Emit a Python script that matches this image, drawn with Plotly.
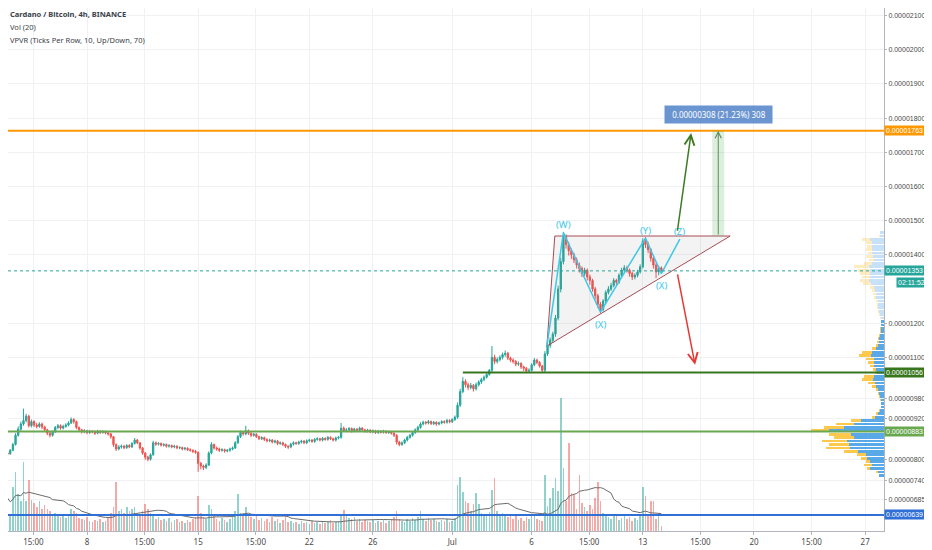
import pandas as pd
import plotly.graph_objects as go

# ADA/BTC 4h bars starting 2020-06-02 12:00, prices in satoshi (1e-8 BTC)
first_open = 800

closes = [int(v) for v in """
805 812 820 818 828 845 872 890 905 915
928 900 912 902 898 905 896 888 878 872
882 895 900 893 898 902 908 918 912 895
888 882 885 880 884 882 878 884 880 883
879 876 868 845 832 838 840 836 842 838
848 858 850 835 820 808 802 815 850 846
848 843 845 840 842 838 840 835 836 832
834 830 828 825 822 790 782 778 785 820
845 835 832 828 830 826 828 832 835 850
868 880 876 885 878 872 875 868 862 865
860 856 858 852 855 848 850 845 840 838
846 850 848 852 855 850 856 858 854 860
862 858 863 860 866 862 858 864 866 893
886 888 892 885 890 886 893 888 884 887
882 885 880 884 881 884 880 882 878 872
852 845 850 858 866 872 880 888 895 905
910 908 912 906 910 905 908 912 910 915
912 918 925 960 1000 1030 1020 1012 1018 1008
1020 1028 1035 1042 1050 1062 1100 1088 1094 1100
1108 1112 1098 1092 1088 1080 1082 1072 1068 1060
1062 1078 1092 1085 1075 1062 1110 1135 1150 1168
1215 1300 1380 1452 1430 1412 1400 1385 1370 1360
1345 1355 1335 1325 1300 1280 1255 1240 1265 1290
1300 1310 1325 1320 1340 1355 1362 1355 1345 1335
1340 1350 1365 1440 1430 1415 1390 1370 1350 1362
1353
""".split()]

highs = [int(v) for v in """
810 816 824 826 832 850 878 898 912 950
935 932 918 916 908 910 909 900 891 882
886 899 905 904 903 907 913 924 922 915
898 891 890 888 888 887 886 888 887 887
886 883 879 870 848 843 845 844 846 846
852 864 861 852 838 823 812 819 856 854
852 851 849 848 846 845 844 843 840 839
838 837 834 831 829 825 794 786 790 825
852 848 839 836 834 833 832 836 839 855
873 886 884 900 889 881 879 878 871 869
868 863 862 861 859 858 854 853 848 843
850 854 853 856 859 858 860 862 861 864
866 865 867 866 870 869 865 868 870 908
898 893 896 895 894 893 897 896 891 891
890 889 888 888 887 888 887 886 885 881
875 856 854 862 870 876 884 892 900 910
915 914 917 915 914 913 912 916 916 920
919 922 930 968 1008 1042 1036 1026 1025 1022
1026 1033 1040 1047 1055 1066 1133 1108 1100 1106
1114 1120 1116 1102 1097 1092 1088 1086 1076 1072
1068 1083 1098 1096 1089 1078 1118 1142 1158 1175
1224 1310 1392 1467 1460 1438 1418 1406 1392 1378
1366 1362 1360 1342 1330 1306 1286 1262 1270 1296
1308 1318 1332 1330 1346 1362 1370 1368 1360 1350
1346 1356 1372 1448 1452 1438 1420 1396 1375 1368
1366
""".split()]

lows = [int(v) for v in """
796 802 808 812 815 825 842 868 885 900
910 895 895 896 892 894 890 884 872 866
868 879 890 888 889 894 898 905 906 890
883 877 878 875 876 878 873 875 876 877
875 871 862 838 826 828 833 831 832 834
835 845 846 830 815 800 796 798 812 841
842 839 839 836 836 834 834 831 831 828
828 826 824 820 818 765 772 770 773 782
816 830 827 823 824 821 822 824 828 832
847 864 871 872 873 867 868 864 858 858
855 851 852 848 848 843 844 840 835 832
834 842 844 844 848 846 846 852 850 850
856 854 854 856 856 858 854 854 860 862
882 882 884 880 881 882 882 884 880 880
878 878 876 876 877 877 876 876 874 867
845 840 841 846 854 862 868 876 884 891
901 903 904 902 902 900 901 904 906 906
907 908 914 920 955 995 1012 1004 1006 1000
1003 1015 1022 1030 1038 1046 1058 1080 1082 1088
1094 1102 1092 1086 1082 1074 1075 1066 1060 1054
1055 1058 1074 1080 1070 1056 1056 1104 1128 1142
1160 1208 1290 1372 1418 1398 1388 1376 1360 1348
1335 1338 1325 1312 1292 1270 1245 1229 1234 1258
1284 1294 1305 1312 1315 1334 1348 1348 1336 1326
1328 1334 1345 1360 1420 1405 1380 1360 1332 1340
1348
""".split()]

# volume per bar (arbitrary units)
volumes = [int(v) for v in """
59 26 24 22 15 44 59 37 30 69
30 51 31 28 24 30 22 26 22 20
17 18 15 14 16 13 15 22 20 18
13 12 11 14 10 9 11 10 12 9
10 13 18 24 49 20 22 18 24 20
22 24 17 15 20 27 22 18 16 12
14 11 12 10 13 9 11 12 9 10
8 11 9 12 14 35 18 14 12 26
22 16 12 10 13 11 9 12 15 20
37 18 16 24 17 14 12 15 11 13
10 12 9 14 10 12 8 11 15 9
10 8 9 7 10 8 9 7 10 8
9 7 10 8 9 11 8 9 10 17
21 16 13 12 14 10 12 9 11 10
9 11 8 10 9 11 8 10 12 14
20 12 10 9 12 10 13 11 14 20
12 10 13 11 12 10 9 11 10 12
9 10 13 46 54 39 30 28 20 27
38 27 18 16 15 19 41 53 20 16
18 15 14 17 12 15 11 13 10 14
12 17 15 12 11 10 56 25 33 43
53 40 133 63 30 88 38 36 22 56
28 24 20 26 22 33 49 30 18 16
14 12 17 15 11 13 16 12 14 10
13 11 15 44 35 16 30 30 12 17
5
""".split()]

# VPVR rows of 10 sat, lowest row starts at 750
vp_start = 750
vp_up = [5, 6, 14, 12, 14, 17, 18, 26, 34, 35,
         37, 30, 33, 55, 40, 30, 23, 9, 6, 4,
         3, 3, 3, 4, 5, 6, 8, 9, 11, 10,
         7, 8, 10, 10, 10, 13, 12, 8, 6, 5,
         5, 4, 3, 3, 3, 3, 3, 4, 5, 6,
         6, 6, 8, 8, 9, 10, 13, 15, 14, 14,
         14, 15, 12, 10, 11, 12, 12, 12, 12, 14,
         4, 4]
vp_down = [0, 2, 3, 8, 4, 6, 9, 14, 24, 20,
           25, 20, 22, 18, 20, 18, 10, 3, 2, 1,
           0, 0, 1, 1, 1, 2, 4, 7, 11, 10,
           2, 3, 4, 6, 8, 12, 10, 4, 2, 2,
           1, 1, 1, 1, 0, 0, 1, 1, 1, 1,
           1, 2, 2, 3, 3, 4, 8, 9, 8, 10,
           12, 15, 8, 5, 7, 4, 6, 5, 6, 8,
           1, 0]
value_area = (750, 1200)

# horizontal levels drawn on the chart
levels = [1763, 1056, 883, 639]
level_colors = ["#ff9800", "#38761d", "#6aa84f", "#2f6fd6"]
level_starts = [None, "2020-07-01 16:00", None, None]
last_price = 1353

# elliott count and triangle
wave_times = ["2020-07-06 23:00", "2020-07-08 00:00", "2020-07-10 08:00",
              "2020-07-13 04:00", "2020-07-14 04:00", "2020-07-15 08:00"]
wave_prices = [1133, 1465, 1232, 1449, 1345, 1446]
wave_labels = ["", "(W)", "(X)", "(Y)", "(X)", "(Z)"]
tri_times = ["2020-07-06 23:00", "2020-07-07 11:00", "2020-07-18 12:00", "2020-07-06 23:00"]
tri_prices = [1133, 1455, 1455, 1133]

# arrows: (tail time, tail price, head time, head price)
arrow_up = ("2020-07-15 04:00", 1466, "2020-07-16 01:00", 1756)
arrow_down = ("2020-07-15 04:00", 1347, "2020-07-16 07:00", 1078)
measure_time = "2020-07-17 18:00"
measure_band = ("2020-07-17 09:00", "2020-07-18 03:00")
measure_from, measure_to = 1455, 1763

price_ticks = [685, 740, 800, 920, 980, 1100, 1200,
               1400, 1500, 1600, 1700, 1800, 1900, 2000, 2100]
date_ticks = ["2020-06-04 15:00", "2020-06-08", "2020-06-11 15:00", "2020-06-15",
              "2020-06-18 15:00", "2020-06-22", "2020-06-26", "2020-07-01",
              "2020-07-06", "2020-07-09 15:00", "2020-07-13", "2020-07-16 15:00",
              "2020-07-20", "2020-07-23 15:00", "2020-07-27"]
date_labels = ["15:00", "8", "15:00", "15", "15:00", "22", "26", "Jul",
               "6", "15:00", "13", "15:00", "20", "15:00", "27"]

# page body adds an 8px margin, so the figure is 8px smaller and starts cut
x_range = ["2020-06-03 00:36", "2020-07-28 04:30"]
price_range = [592, 2122]
vol_range = [0, 523]
FONT = "Noto Sans"
SCALE_FONT = "Liberation Sans"


def sats(p):
    return "{:.8f}".format(p * 1e-8)


bars = pd.DataFrame({
    "Date": pd.date_range("2020-06-02 12:00", periods=len(closes), freq="4h"),
    "Open": [first_open] + closes[:-1],
    "High": highs,
    "Low": lows,
    "Close": closes,
    "Volume": volumes,
})
# 20 bar volume moving average
bars["MA"] = bars.Volume.rolling(window=20, min_periods=1).mean()
vol_colors = ["rgba(38,166,154,0.5)" if c >= o else "rgba(239,83,80,0.5)"
              for o, c in zip(bars.Open, bars.Close)]

fig = go.Figure()

# volume pane (bottom, own hidden scale)
fig.add_trace(go.Bar(x=bars.Date, y=bars.Volume, marker_color=vol_colors,
                     marker_line_width=0, width=4 * 3600 * 1000 * 0.6,
                     xaxis="x", yaxis="y"))
fig.add_trace(go.Scatter(x=bars.Date, y=bars.MA, mode="lines",
                         line=dict(color="#6b6b6b", width=1),
                         xaxis="x", yaxis="y"))

# triangle
fig.add_trace(go.Scatter(x=tri_times, y=tri_prices, mode="lines", fill="toself",
                         fillcolor="rgba(120,120,130,0.09)",
                         line=dict(color="#a84a55", width=1),
                         xaxis="x", yaxis="y2"))

fig.add_trace(go.Candlestick(
    x=bars.Date, open=bars.Open, high=bars.High, low=bars.Low, close=bars.Close,
    increasing=dict(line=dict(color="#26a69a", width=1), fillcolor="#26a69a"),
    decreasing=dict(line=dict(color="#ef5350", width=1), fillcolor="#ef5350"),
    whiskerwidth=0, xaxis="x", yaxis="y2"))

# wave zigzag
fig.add_trace(go.Scatter(x=wave_times, y=wave_prices, mode="lines",
                         line=dict(color="#3cc8e6", width=1.5),
                         xaxis="x", yaxis="y2"))

# volume profile, bars growing leftwards from the price scale
vp_rows = [vp_start + 10 * i + 5 for i in range(len(vp_up))]
in_va = [value_area[0] <= r - 5 <= value_area[1] for r in vp_rows]
fig.add_trace(go.Bar(y=vp_rows, x=vp_up, orientation="h", width=8,
                     marker_color=["rgba(33,140,226,0.75)" if v else "rgba(33,140,226,0.25)" for v in in_va],
                     marker_line_width=0, xaxis="x2", yaxis="y2"))
fig.add_trace(go.Bar(y=vp_rows, x=vp_down, orientation="h", width=8,
                     marker_color=["rgba(251,192,45,0.85)" if v else "rgba(251,192,45,0.3)" for v in in_va],
                     marker_line_width=0, xaxis="x2", yaxis="y2"))

shapes = []
for p, col, start in zip(levels, level_colors, level_starts):
    if start is None:
        shapes.append(dict(type="line", xref="paper", x0=0, x1=1, yref="y2", y0=p, y1=p,
                           line=dict(color=col, width=2)))
    else:
        shapes.append(dict(type="line", xref="x", x0=start, x1=x_range[1], yref="y2", y0=p, y1=p,
                           line=dict(color=col, width=2)))
shapes.append(dict(type="line", xref="paper", x0=0, x1=1, yref="y2", y0=last_price, y1=last_price,
                   line=dict(color="#26a69a", width=1, dash="dot")))
shapes.append(dict(type="rect", xref="x", x0=measure_band[0], x1=measure_band[1],
                   yref="y2", y0=measure_from, y1=measure_to,
                   fillcolor="rgba(76,175,80,0.2)", line=dict(width=0)))

annotations = []
# legend text top left
for i, txt in enumerate(["<b>Cardano / Bitcoin, 4h, BINANCE</b>", "Vol (20)",
                         "VPVR (Ticks Per Row, 10, Up/Down, 70)"]):
    annotations.append(dict(xref="paper", yref="paper", x=0, y=1, xanchor="left", yanchor="middle",
                            xshift=0, yshift=-6 - 13 * i, text=txt, showarrow=False,
                            font=dict(family=FONT, size=7.5, color="#3c3f4a")))

# price scale labels for the levels
for p, col in zip(levels + [last_price], level_colors + ["#26a69a"]):
    annotations.append(dict(xref="paper", yref="y2", x=1, y=p, xanchor="left", yanchor="middle",
                            text=sats(p), showarrow=False, bgcolor=col, borderpad=1,
                            font=dict(family=SCALE_FONT, size=7, color="white")))
annotations.append(dict(xref="paper", yref="y2", x=1, y=last_price, xanchor="left", yanchor="middle",
                        xshift=12, yshift=-12, text="02:11:52", showarrow=False,
                        bgcolor="#26a69a", borderpad=1,
                        font=dict(family=SCALE_FONT, size=7, color="white")))

# wave labels
for t, p, lab, k in zip(wave_times, wave_prices, wave_labels, range(len(wave_labels))):
    if lab:
        annotations.append(dict(x=t, y=p, xref="x", yref="y2", text=lab, showarrow=False,
                                yshift=8 if k % 2 == 1 else -12,
                                font=dict(family=FONT, size=9.5, color="#3cc8e6")))

# arrows
for (t0, p0, t1, p1), col in [(arrow_up, "#3d7a22"), (arrow_down, "#e53935")]:
    annotations.append(dict(x=t1, y=p1, ax=t0, ay=p0, xref="x", yref="y2", axref="x", ayref="y2",
                            text="", showarrow=True, arrowhead=5, arrowsize=1.3, arrowwidth=1.5,
                            arrowcolor=col))
annotations.append(dict(x=measure_time, y=measure_to, ax=measure_time, ay=measure_from,
                        xref="x", yref="y2", axref="x", ayref="y2", text="", showarrow=True,
                        arrowhead=5, arrowsize=1.2, arrowwidth=1, arrowcolor="#5d8a5d"))
annotations.append(dict(x=measure_time, y=measure_to, xref="x", yref="y2", yshift=16,
                        text="&nbsp;&nbsp;{} ({:.2f}%) {}&nbsp;&nbsp;".format(
                            sats(measure_to - measure_from), 21.23, measure_to - measure_from),
                        showarrow=False, bgcolor="rgba(80,130,200,0.85)", borderpad=3,
                        font=dict(family=FONT, size=8, color="white")))

fig.update_layout(
    width=924, height=542,
    margin=dict(l=0, r=48, t=0, b=19, pad=0),
    paper_bgcolor="white", plot_bgcolor="white",
    showlegend=False, barmode="stack",
    shapes=shapes, annotations=annotations,
    font=dict(family=FONT, size=8, color="#4a4a4a"),
    xaxis=dict(type="date", range=x_range, tickvals=date_ticks, ticktext=date_labels,
               showgrid=True, gridcolor="#eff1f5", zeroline=False,
               showline=True, linecolor="#b2b5be", ticks="outside", ticklen=3,
               tickcolor="#b2b5be", rangeslider=dict(visible=False), automargin=False,
               tickfont=dict(size=8, color="#4a4a4a")),
    yaxis=dict(range=vol_range, visible=False, fixedrange=True),
    yaxis2=dict(overlaying="y", side="right", range=price_range,
                tickvals=price_ticks, ticktext=[sats(p) for p in price_ticks],
                showgrid=True, gridcolor="#eff1f5", zeroline=False,
                showline=True, linecolor="#b2b5be", ticks="outside", ticklen=2,
                tickcolor="#b2b5be", automargin=False,
                tickfont=dict(family=SCALE_FONT, size=7, color="#4a4a4a")),
    xaxis2=dict(overlaying="x", range=[876, 0], visible=False),
)

fig.write_html("out.html")
